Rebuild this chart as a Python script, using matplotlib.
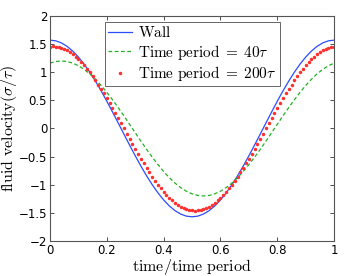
import numpy as np
import matplotlib
matplotlib.use('Agg')
import matplotlib.pyplot as plt

plt.rcParams['mathtext.fontset'] = 'cm'

# wall velocity, sampled every 0.02
x_wall = np.linspace(0, 1, 51)
v_wall = [1.571, 1.559, 1.522, 1.461, 1.377, 1.271, 1.145, 1.001, 0.842, 0.669,
          0.485, 0.294, 0.099, -0.099, -0.294, -0.485, -0.669, -0.842, -1.001, -1.145,
          -1.271, -1.377, -1.461, -1.522, -1.559, -1.571, -1.559, -1.522, -1.461, -1.377,
          -1.271, -1.145, -1.001, -0.842, -0.669, -0.485, -0.294, -0.099, 0.099, 0.294,
          0.485, 0.669, 0.842, 1.001, 1.145, 1.271, 1.377, 1.461, 1.522, 1.559, 1.571]

# time period = 40 tau
x_40 = np.linspace(0, 1, 51)
v_40 = [1.162, 1.191, 1.200, 1.191, 1.162, 1.116, 1.052, 0.971, 0.875, 0.765,
        0.643, 0.511, 0.371, 0.225, 0.075, -0.075, -0.225, -0.371, -0.511, -0.643,
        -0.765, -0.875, -0.971, -1.052, -1.116, -1.162, -1.191, -1.200, -1.191, -1.162,
        -1.116, -1.052, -0.971, -0.875, -0.765, -0.643, -0.511, -0.371, -0.225, -0.075,
        0.075, 0.225, 0.371, 0.511, 0.643, 0.765, 0.875, 0.971, 1.052, 1.116, 1.162]

# time period = 200 tau, sampled every 0.01
x_200 = np.linspace(0, 1, 101)
v_200 = [1.457, 1.460, 1.457, 1.448, 1.434, 1.414, 1.389, 1.357, 1.321, 1.279,
         1.233, 1.181, 1.125, 1.064, 0.999, 0.931, 0.858, 0.782, 0.703, 0.622,
         0.537, 0.451, 0.363, 0.274, 0.183, 0.092, 0.000, -0.092, -0.183, -0.274,
         -0.363, -0.451, -0.537, -0.622, -0.703, -0.782, -0.858, -0.931, -0.999, -1.064,
         -1.125, -1.181, -1.233, -1.279, -1.321, -1.357, -1.389, -1.414, -1.434, -1.448,
         -1.457, -1.460, -1.457, -1.448, -1.434, -1.414, -1.389, -1.357, -1.321, -1.279,
         -1.233, -1.181, -1.125, -1.064, -0.999, -0.931, -0.858, -0.782, -0.703, -0.622,
         -0.537, -0.451, -0.363, -0.274, -0.183, -0.092, 0.000, 0.092, 0.183, 0.274,
         0.363, 0.451, 0.537, 0.622, 0.703, 0.782, 0.858, 0.931, 0.999, 1.064,
         1.125, 1.181, 1.233, 1.279, 1.321, 1.357, 1.389, 1.414, 1.434, 1.448, 1.457]

xticks = [0, 0.2, 0.4, 0.6, 0.8, 1]
yticks = [-2, -1.5, -1, -0.5, 0, 0.5, 1, 1.5, 2]

fig = plt.figure(figsize=(3.57, 2.76), dpi=100)
ax = fig.add_axes([0.140, 0.127, 0.796, 0.815])

ax.plot(x_wall, v_wall, '-', color='#2b4cff', lw=0.9, label=r'$\mathrm{Wall}$')
ax.plot(x_40, v_40, '--', color='#22b022', lw=0.9, dashes=(3, 2),
        label=r'$\mathrm{Time\ period}\;=\;40\tau$')
ax.plot(x_200, v_200, '.', color='#ff3030', ms=3.0,
        label=r'$\mathrm{Time\ period}\;=\;200\tau$')

ax.set_xlim(0, 1)
ax.set_ylim(-2, 2)
ax.set_xticks(xticks)
ax.set_yticks(yticks)
ax.set_xticklabels(['0', '0.2', '0.4', '0.6', '0.8', '1'])
ax.set_yticklabels(['\u22122', '\u22121.5', '\u22121', '\u22120.5', '0', '0.5', '1', '1.5', '2'])
ax.tick_params(direction='in', top=True, right=True, length=3, width=0.6,
               labelsize=8.5, pad=2, colors='#333333', labelcolor='black')
for s in ax.spines.values():
    s.set_color('#555555')
    s.set_linewidth(0.8)

ax.set_xlabel(r'$\mathrm{time/time\ period}$', fontsize=11.5, labelpad=0)
ax.set_ylabel(r'$\mathrm{fluid\ velocity}(\sigma/\tau)$', fontsize=11.5, labelpad=0)

leg = ax.legend(loc='upper center', bbox_to_anchor=(0.5, 0.985), fancybox=False,
                edgecolor='#666666', framealpha=1, borderpad=0.2, labelspacing=0.15,
                handlelength=1.6, handletextpad=0.4, borderaxespad=0.2,
                fontsize=11)
leg.get_frame().set_linewidth(0.7)

plt.savefig('out.png', dpi=100)
